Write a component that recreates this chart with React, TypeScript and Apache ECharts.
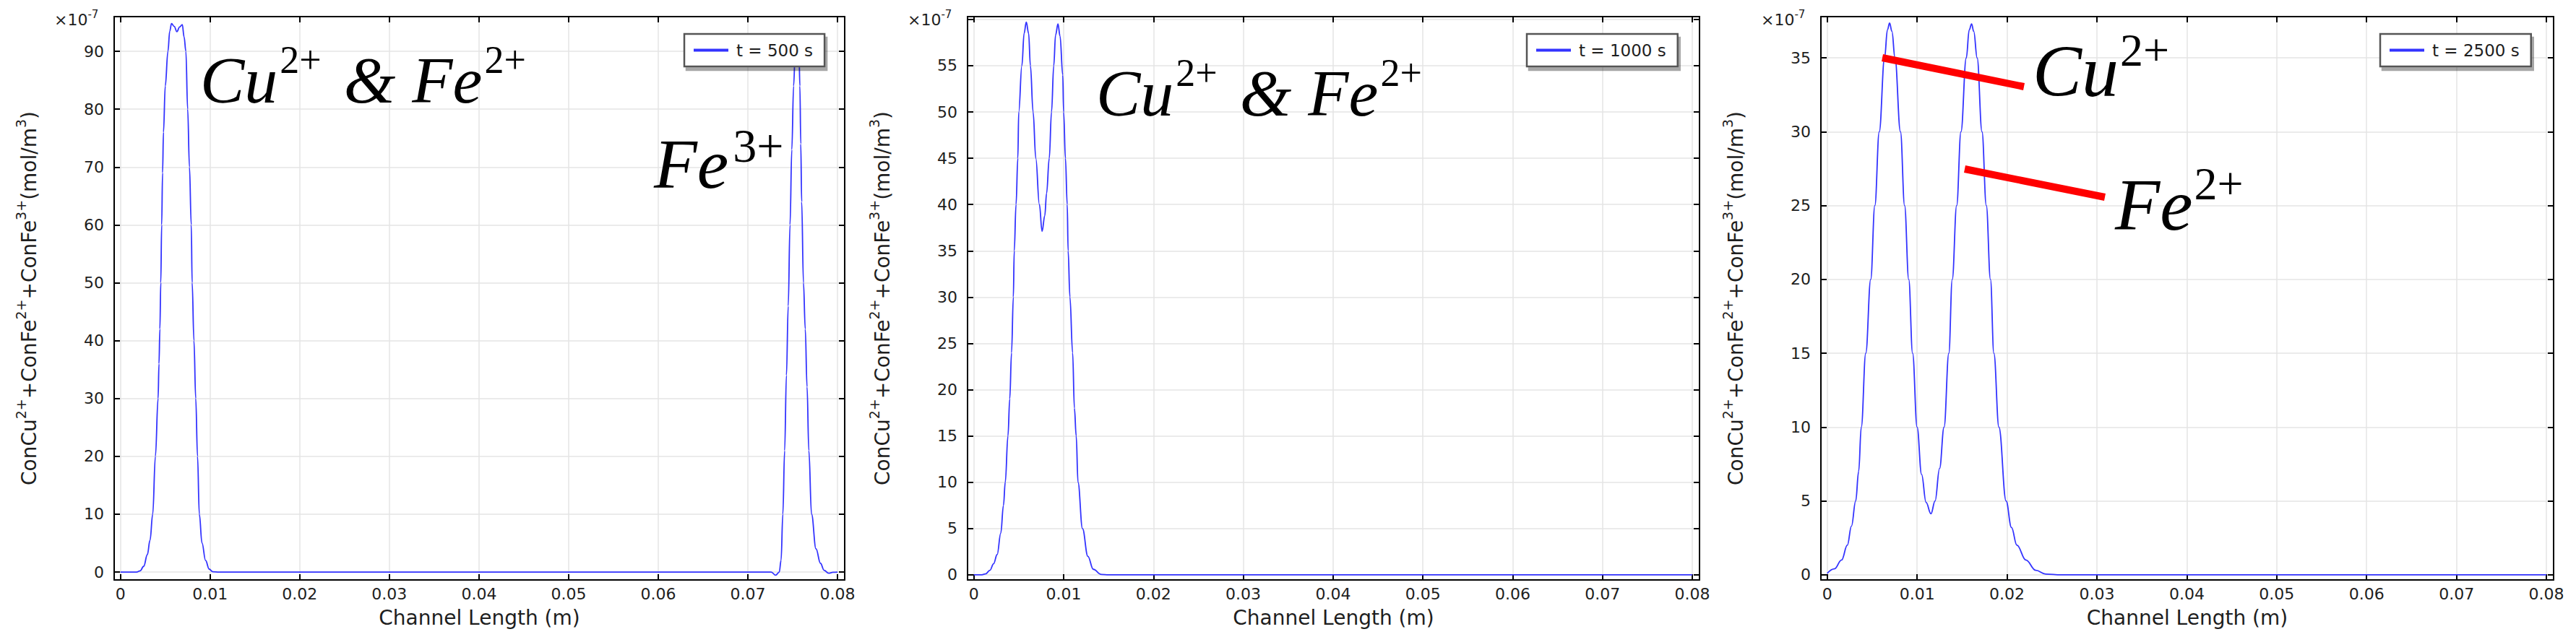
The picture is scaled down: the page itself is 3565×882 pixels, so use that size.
import React, { useEffect, useRef } from "react";
import * as echarts from "echarts";

// ---------------- data ----------------
const seriesNames = ["t = 500 s", "t = 1000 s", "t = 2500 s"];
const xAxisTitle = "Channel Length (m)";
const yAxisTitle = "ConCu{sup|2+}+ConFe{sup|2+}+ConFe{sup|3+}(mol/m{sup|3})";
const scaleLabel = "{b|×10}{e|-7}";

// t = 500 s
const x500 = [0, 0.001, 0.0018, 0.0022, 0.0026, 0.003, 0.0033, 0.0036, 0.0039, 0.0042, 0.0043, 0.0044, 0.0045, 0.0046, 0.0047, 0.0048, 0.005, 0.0053, 0.0055, 0.0057, 0.006, 0.0063, 0.0066, 0.0069, 0.0071, 0.0073, 0.0075, 0.0077, 0.0079, 0.008, 0.0082, 0.0084, 0.0086, 0.0088, 0.0091, 0.0095, 0.0099, 0.0103, 0.011, 0.02, 0.03, 0.04, 0.05, 0.06, 0.07, 0.0726, 0.0731, 0.0735, 0.0737, 0.0739, 0.0741, 0.0743, 0.0745, 0.0747, 0.0749, 0.0751, 0.0753, 0.07545, 0.0757, 0.0758, 0.0759, 0.076, 0.0762, 0.0764, 0.0766, 0.0768, 0.0771, 0.0776, 0.0781, 0.0785, 0.079, 0.0795, 0.08];
const c500 = [0, 0, 0, 0.2, 1, 3, 5.5, 10, 20, 30, 36, 42, 50, 60, 69, 76, 84, 90, 93.5, 94.8, 94.3, 93.4, 94.2, 94.6, 92.5, 90, 80, 70, 60, 50, 40, 30, 20, 10, 5, 2, 0.5, 0.05, 0, 0, 0, 0, 0, 0, 0, 0, -0.55, 0, 2, 10, 21, 34, 46, 60, 73, 84, 91, 93, 90, 84, 74, 64, 50, 42, 32, 21, 10, 4, 1.5, 0.3, -0.2, -0.05, 0];

// t = 1000 s
const x1000 = [0, 0.0008, 0.0013, 0.0018, 0.0022, 0.0026, 0.003, 0.0033, 0.0035, 0.0038, 0.004, 0.0042, 0.0044, 0.0045, 0.0047, 0.0049, 0.005, 0.00535, 0.0056, 0.00584, 0.0061, 0.0063, 0.0066, 0.0069, 0.0073, 0.0076, 0.0079, 0.0081, 0.0084, 0.00865, 0.0089, 0.0091, 0.00937, 0.0096, 0.0099, 0.01, 0.0102, 0.0104, 0.0105, 0.0107, 0.011, 0.0112, 0.0114, 0.0116, 0.0121, 0.0127, 0.0133, 0.0142, 0.015, 0.03, 0.05, 0.07, 0.08];
const c1000 = [0, 0, 0.1, 0.5, 1.2, 2.2, 4.5, 7.5, 10, 15, 19, 24, 30, 35, 40, 45, 50, 55, 58.5, 59.7, 58.5, 55, 50, 45, 40, 37.1, 38.8, 41.2, 45, 50, 55, 58.3, 59.5, 58.2, 54, 50, 45, 40, 35, 30, 24, 18, 15, 10, 5, 2, 0.6, 0.05, 0, 0, 0, 0, 0];

// t = 2500 s
const x2500 = [0, 0.0008, 0.0016, 0.00224, 0.0027, 0.00317, 0.0035, 0.00379, 0.00429, 0.00484, 0.0053, 0.00579, 0.00638, 0.0067, 0.00694, 0.0072, 0.00754, 0.00815, 0.00861, 0.00907, 0.0095, 0.01, 0.0105, 0.011, 0.01154, 0.012, 0.0125, 0.013, 0.01353, 0.01391, 0.0144, 0.01488, 0.01547, 0.0158, 0.01606, 0.0163, 0.01668, 0.01722, 0.0177, 0.01816, 0.01854, 0.0191, 0.0199, 0.0205, 0.0211, 0.0221, 0.0232, 0.0243, 0.026, 0.04, 0.06, 0.08];
const c2500 = [0.1, 0.4, 1, 2, 3.3, 5, 7, 10, 15, 20, 25, 30, 35, 36.9, 37.36, 36.8, 35, 30, 25, 20, 15, 10, 6.8, 4.9, 4.13, 5, 7.2, 10, 15, 20, 25, 30, 35, 36.9, 37.3, 36.8, 35, 30, 25, 20, 15, 10, 5, 3.2, 2, 1, 0.3, 0.05, 0, 0, 0, 0];

const xRange = [-0.0007, 0.0808];
const xStep = 0.01;
const yRanges = [[-1.37, 96], [-0.55, 60.3], [-0.35, 37.8]];
const ySteps = [10, 5, 5];
const yLabelMax = [90, 55, 35];

const xs = [x500, x1000, x2500];
const cs = [c500, c1000, c2500];

// ---------------- styles ----------------
const FONT = "'DejaVu Sans', 'Liberation Sans', sans-serif";
const SERIF = "'Liberation Serif', 'DejaVu Serif', serif";
const LINE_COLOR = "#3333ff";
const TEXT_COLOR = "#1e1e1e";
const GRID_COLOR = "#e4e4e4";

const gridBoxes = [
  { left: 158, top: 23, width: 1011, height: 780 },
  { left: 1339, top: 23, width: 1013, height: 780 },
  { left: 2520, top: 23, width: 1014, height: 780 },
];
const legendLefts = [947, 2113, 3294];

function fmtMultiple(step: number, digits: number, maxShown: number) {
  return (v: number) => {
    const k = Math.round(v / step);
    if (Math.abs(v - k * step) > step * 1e-6) return "";
    if (k * step > maxShown + step * 1e-6) return "";
    return String(+(k * step).toFixed(digits));
  };
}

function mkX(gi: number, main: boolean) {
  return {
    type: "value",
    gridIndex: gi,
    position: main ? "bottom" : "top",
    min: xRange[0],
    max: xRange[1],
    minInterval: xStep,
    maxInterval: xStep,
    splitNumber: 8,
    axisLine: { show: true, onZero: false, lineStyle: { color: "#000", width: 2 } },
    axisTick: { show: true, inside: true, length: 8, lineStyle: { color: "#000", width: 2 } },
    axisLabel: main
      ? { show: true, margin: 8, fontSize: 22, fontFamily: FONT, color: TEXT_COLOR, formatter: fmtMultiple(xStep, 2, 0.08) }
      : { show: false },
    splitLine: main ? { show: true, lineStyle: { color: GRID_COLOR, width: 1.5 } } : { show: false },
    name: main ? xAxisTitle : "",
    nameLocation: "middle",
    nameGap: 38,
    nameTextStyle: { fontSize: 28, fontFamily: FONT, color: TEXT_COLOR },
  };
}

function mkY(gi: number, main: boolean) {
  const step = ySteps[gi];
  return {
    type: "value",
    gridIndex: gi,
    position: main ? "left" : "right",
    min: yRanges[gi][0],
    max: yRanges[gi][1],
    minInterval: step,
    maxInterval: step,
    axisLine: { show: true, onZero: false, lineStyle: { color: "#000", width: 2 } },
    axisTick: { show: true, inside: true, length: 8, lineStyle: { color: "#000", width: 2 } },
    axisLabel: main
      ? { show: true, margin: 14, fontSize: 22, fontFamily: FONT, color: TEXT_COLOR, formatter: fmtMultiple(step, 0, yLabelMax[gi]) }
      : { show: false },
    splitLine: main ? { show: true, lineStyle: { color: GRID_COLOR, width: 1.5 } } : { show: false },
    name: main ? yAxisTitle : "",
    nameLocation: "middle",
    nameRotate: 90,
    nameGap: 97,
    nameTextStyle: {
      fontSize: 28,
      fontFamily: FONT,
      color: TEXT_COLOR,
      lineHeight: 42,
      rich: {
        sup: { fontSize: 19, fontFamily: FONT, color: TEXT_COLOR, verticalAlign: "top", lineHeight: 19 },
      },
    },
  };
}

function annotation(x: number, y: number, text: string, mainSize: number, supSize: number, supLH: number, supPad: number[]) {
  return {
    type: "text",
    x,
    y,
    z: 100,
    style: {
      text,
      align: "left",
      verticalAlign: "top",
      fill: "#000",
      font: `italic ${mainSize}px ${SERIF}`,
      lineHeight: Math.round(mainSize * 1.2),
      rich: {
        m: { fontSize: mainSize, fontStyle: "italic", fontFamily: SERIF, fill: "#000", color: "#000", lineHeight: Math.round(mainSize * 1.2) },
        s: { fontSize: supSize, fontStyle: "normal", fontFamily: SERIF, fill: "#000", color: "#000", verticalAlign: "top", lineHeight: supLH, padding: supPad },
      },
    },
  };
}

function buildOption() {
  const xAxis: any[] = [];
  const yAxis: any[] = [];
  gridBoxes.forEach((_, i) => {
    xAxis.push(mkX(i, true), mkX(i, false));
    yAxis.push(mkY(i, true), mkY(i, false));
  });

  const series = seriesNames.map((name, i) => ({
    type: "line",
    name,
    xAxisIndex: 2 * i,
    yAxisIndex: 2 * i,
    data: xs[i].map((x, j) => [x, cs[i][j]]),
    symbol: "none",
    smooth: 0.4,
    smoothMonotone: "x",
    lineStyle: { color: LINE_COLOR, width: 1.8 },
    itemStyle: { color: LINE_COLOR },
    z: 2,
  }));

  const legend = seriesNames.map((name, i) => ({
    data: [{ name, icon: "rect" }],
    left: legendLefts[i],
    top: 47,
    orient: "horizontal",
    selectedMode: false,
    icon: "rect",
    itemWidth: 48,
    itemHeight: 4,
    padding: [11, 16, 11, 13],
    backgroundColor: "#fff",
    borderColor: "#555",
    borderWidth: 2.5,
    borderRadius: 0,
    shadowColor: "rgba(0,0,0,0.35)",
    shadowOffsetX: 3,
    shadowOffsetY: 5,
    shadowBlur: 1,
    itemStyle: { color: LINE_COLOR, borderWidth: 0 },
    lineStyle: { width: 0 },
    textStyle: { fontSize: 23, fontFamily: FONT, color: TEXT_COLOR, padding: [0, 0, 0, 6] },
  }));

  const graphic: any[] = [];
  gridBoxes.forEach((g) => {
    graphic.push({
      type: "text",
      x: g.left - 83,
      y: 12,
      z: 100,
      style: {
        text: scaleLabel,
        align: "left",
        verticalAlign: "top",
        fill: TEXT_COLOR,
        font: `22px ${FONT}`,
        rich: {
          b: { fontSize: 22, fontFamily: FONT, fill: TEXT_COLOR, color: TEXT_COLOR, lineHeight: 30 },
          e: { fontSize: 15, fontFamily: FONT, fill: TEXT_COLOR, color: TEXT_COLOR, verticalAlign: "top", lineHeight: 15 },
        },
      },
    });
  });

  const pad12 = [0, 8, 0, 3];
  graphic.push(annotation(277, 56, "{m|Cu}{s|2+}{m| & Fe}{s|2+}", 92, 54, 54, pad12));
  graphic.push(annotation(905, 168, "{m|Fe}{s|3+}", 98, 66, 79, [0, 0, 0, 6]));
  graphic.push(annotation(1517, 74, "{m|Cu}{s|2+}{m| & Fe}{s|2+}", 92, 54, 54, pad12));
  graphic.push(annotation(2813, 37, "{m|Cu}{s|2+}", 102, 64, 76, [0, 0, 0, 2]));
  graphic.push(annotation(2927, 222, "{m|Fe}{s|2+}", 102, 64, 76, [0, 0, 0, 2]));

  graphic.push({
    type: "line",
    z: 100,
    shape: { x1: 2605, y1: 80, x2: 2801, y2: 120 },
    style: { stroke: "#ff0000", lineWidth: 10, lineCap: "butt" },
  });
  graphic.push({
    type: "line",
    z: 100,
    shape: { x1: 2719, y1: 234, x2: 2913, y2: 273 },
    style: { stroke: "#ff0000", lineWidth: 10, lineCap: "butt" },
  });

  return {
    animation: false,
    backgroundColor: "#ffffff",
    grid: gridBoxes.map((g) => ({ ...g, containLabel: false, outerBoundsMode: "none" })),
    xAxis,
    yAxis,
    legend,
    series,
    graphic,
  };
}

export default function App() {
  const ref = useRef<HTMLDivElement | null>(null);
  useEffect(() => {
    document.body.style.margin = "0";
    if (!ref.current) return;
    const chart = echarts.init(ref.current, null, { renderer: "svg" });
    chart.setOption(buildOption() as any);
    return () => {
      chart.dispose();
    };
  }, []);
  return <div ref={ref} style={{ width: 3565, height: 882, background: "#fff" }} />;
}
